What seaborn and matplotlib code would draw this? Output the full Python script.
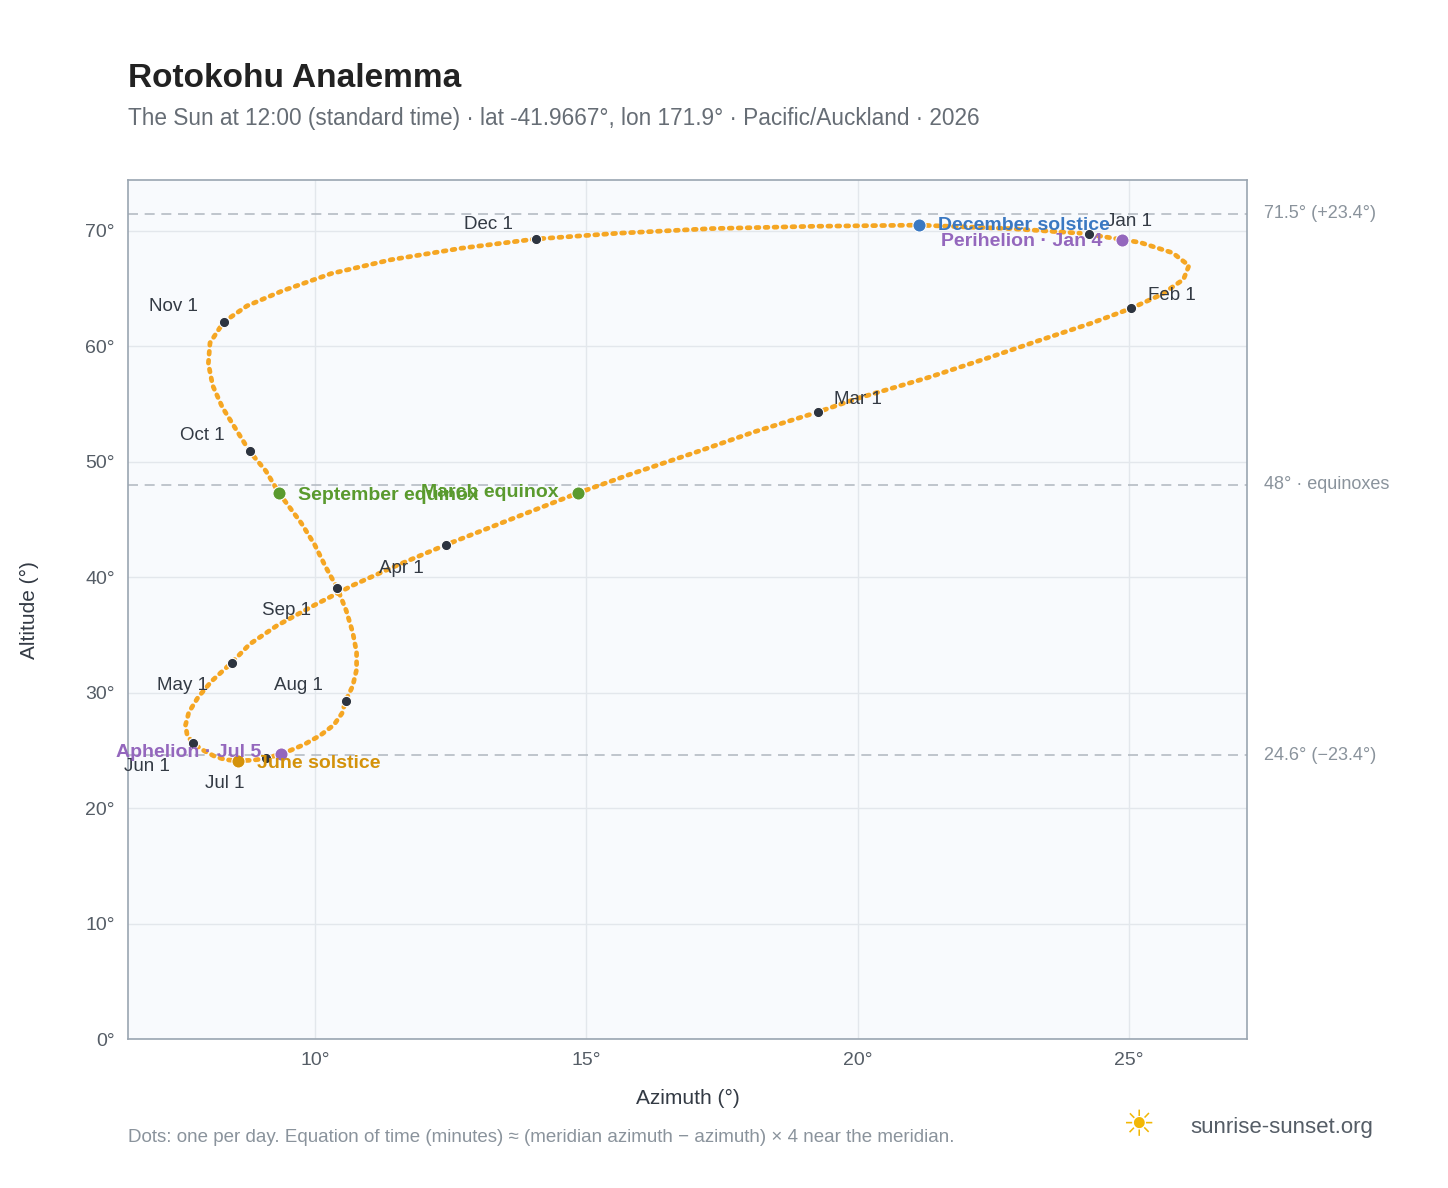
import matplotlib
matplotlib.use("Agg")
import matplotlib.pyplot as plt
import seaborn as sns
import pandas as pd

# Sun position at 12:00, every 5 days (Jan 1 -> Dec 31)
azimuth = [24.26, 25.2, 25.8, 26.1, 26.0, 25.6, 25.04,
           24.3, 23.4, 22.4, 21.3, 20.0, 19.26,
           18.1, 17.0, 15.8, 14.85, 13.6, 12.41,
           11.5, 10.7, 10.0, 9.3, 8.8, 8.47,
           8.1, 7.85, 7.68, 7.62, 7.65, 7.76,
           7.95, 8.15, 8.35, 8.58, 8.85, 9.10,
           9.45, 9.8, 10.1, 10.35, 10.5, 10.57,
           10.7, 10.77, 10.77, 10.7, 10.58, 10.41,
           10.2, 10.0, 9.75, 9.34, 9.1, 8.80,
           8.55, 8.3, 8.12, 8.04, 8.07, 8.32,
           8.75, 9.4, 10.3, 11.4, 12.7, 14.07,
           15.6, 17.3, 19.2, 21.12, 22.8, 24.1]
altitude = [69.7, 69.0, 68.1, 67.0, 65.8, 64.5, 63.3,
            62.0, 60.6, 59.0, 57.3, 55.5, 54.3,
            52.6, 50.8, 48.9, 47.3, 45.0, 42.8,
            41.0, 39.3, 37.6, 35.8, 34.2, 32.6,
            31.0, 29.6, 28.3, 27.2, 26.3, 25.6,
            25.0, 24.5, 24.2, 24.1, 24.15, 24.3,
            24.8, 25.5, 26.3, 27.2, 28.2, 29.3,
            30.6, 32.0, 33.5, 35.2, 37.1, 39.1,
            40.9, 42.8, 44.7, 47.3, 49.2, 50.9,
            52.8, 54.7, 56.6, 58.5, 60.3, 62.1,
            63.5, 64.8, 66.3, 67.5, 68.5, 69.3,
            69.8, 70.2, 70.4, 70.5, 70.2, 69.8]

month_labels = ["Jan 1", "Feb 1", "Mar 1", "Apr 1", "May 1", "Jun 1",
                "Jul 1", "Aug 1", "Sep 1", "Oct 1", "Nov 1", "Dec 1"]
month_az = [24.26, 25.04, 19.26, 12.41, 8.47, 7.76, 9.10, 10.57, 10.41, 8.80, 8.32, 14.07]
month_alt = [69.7, 63.3, 54.3, 42.8, 32.6, 25.6, 24.3, 29.3, 39.1, 50.9, 62.1, 69.3]
# label offsets in points
month_off = [(12, 6), (12, 6), (12, 6), (-48, -20), (-54, -20), (-50, -20),
             (-44, -21), (-52, 8), (-54, -20), (-50, 8), (-54, 8), (-52, 7)]

event_labels = ["March equinox", "September equinox", "December solstice",
                "June solstice", "Perihelion · Jan 4", "Aphelion · Jul 5"]
event_az = [14.85, 9.34, 21.12, 8.58, 24.86, 9.37]
event_alt = [47.3, 47.3, 70.5, 24.1, 69.2, 24.7]
event_colors = ["#5a9a2e", "#5a9a2e", "#3a78c2", "#d4920a", "#9467bd", "#9467bd"]
event_ha = ["right", "left", "left", "left", "right", "right"]
event_off = [(-14, 0), (14, -2), (14, 0), (14, -2), (-14, -1), (-14, 1)]

ref_alt = [71.5, 48.0, 24.6]
ref_text = ["71.5° (+23.4°)", "48° · equinoxes", "24.6° (−23.4°)"]

sns.set_theme(style="whitegrid")
plt.rcParams['font.family'] = ['Liberation Sans', 'DejaVu Sans']

fig = plt.figure(figsize=(14.48, 11.88), dpi=100)
ax = fig.add_axes([0.0884, 0.1254, 0.7728, 0.723])
ax.set_facecolor("#f8fafd")
for s in ax.spines.values():
    s.set_color("#9aa5b1")
    s.set_linewidth(1.2)
ax.grid(color="#e3e7ec", linewidth=1)

df = pd.DataFrame({"az": azimuth, "alt": altitude})
ax.plot(df["az"], df["alt"], color="#f5a623", lw=3.4, ls=(0, (0.6, 1.3)),
        solid_capstyle="round", dash_capstyle="round", zorder=2)

for y in ref_alt:
    ax.axhline(y, color="#b5bcc4", lw=1.2, ls=(0, (6, 4)), zorder=1)
for y, t in zip(ref_alt, ref_text):
    ax.annotate(t, xy=(1, y), xycoords=("axes fraction", "data"), xytext=(12, 0),
                textcoords="offset points", va="center", ha="left",
                fontsize=13, color="#8a939c", annotation_clip=False)

sns.scatterplot(x=month_az, y=month_alt, ax=ax, color="#2d3440", s=55,
                edgecolor="white", linewidth=0.8, zorder=4, legend=False)
for t, x, y, off in zip(month_labels, month_az, month_alt, month_off):
    ax.annotate(t, (x, y), xytext=off, textcoords="offset points",
                fontsize=13.5, color="#333a44", zorder=5)

for t, x, y, c, ha, off in zip(event_labels, event_az, event_alt, event_colors, event_ha, event_off):
    ax.scatter(x, y, s=90, color=c, edgecolor="white", linewidth=0.8, zorder=5)
    ax.annotate(t, (x, y), xytext=off, textcoords="offset points", ha=ha, va="center",
                fontsize=14, fontweight="bold", color=c, zorder=6)

ax.set_xlim(6.56, 27.17)
ax.set_ylim(0, 74.4)
ax.set_xticks([10, 15, 20, 25])
ax.set_yticks(range(0, 80, 10))
ax.xaxis.set_major_formatter(lambda v, p: f"{v:.0f}°")
ax.yaxis.set_major_formatter(lambda v, p: f"{v:.0f}°")
ax.tick_params(labelsize=14, colors="#555d66")
ax.set_xlabel("Azimuth (°)", fontsize=15, color="#333a44", labelpad=14)
ax.set_ylabel("Altitude (°)", fontsize=15, color="#333a44", labelpad=33)

fig.text(0.0884, 0.927, "Rotokohu Analemma", fontsize=24, fontweight="bold", color="#222222")
fig.text(0.0884, 0.895, "The Sun at 12:00 (standard time) · lat -41.9667°, lon 171.9° · Pacific/Auckland · 2026",
         fontsize=16.3, color="#666d75")
fig.text(0.0884, 0.039, "Dots: one per day. Equation of time (minutes) ≈ (meridian azimuth − azimuth) × 4 near the meridian.",
         fontsize=13.5, color="#8a939c")
fig.text(0.822, 0.046, "sunrise-sunset.org", fontsize=16, color="#555d66")
fig.text(0.775, 0.044, "☀", fontsize=26, color="#f2b705")

fig.savefig("out.png", dpi=100)
